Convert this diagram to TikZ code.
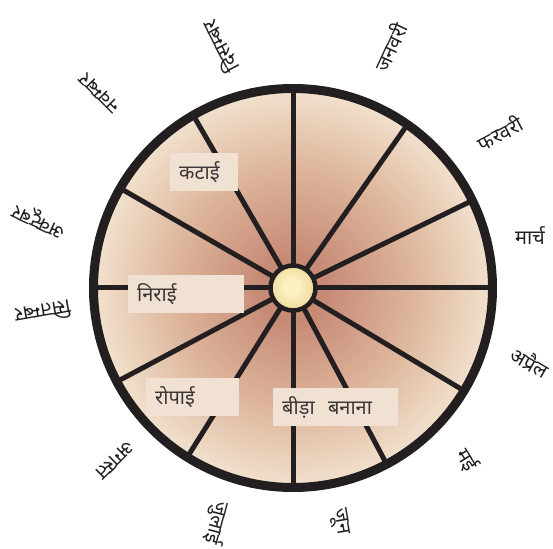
\documentclass[tikz,border=0pt]{standalone}
\usepackage{fontspec}
\setmainfont[Script=Devanagari]{Noto Sans}
\usepackage{tikz}
\usetikzlibrary{positioning}
\definecolor{Ink}{HTML}{231F20}
\definecolor{Label}{HTML}{3A3536}
\definecolor{WheelIn}{HTML}{C68A75}
\definecolor{WheelMid}{HTML}{DDB59B}
\definecolor{WheelOut}{HTML}{F8EFDD}
\definecolor{HubIn}{HTML}{FBF2C4}
\definecolor{HubOut}{HTML}{E9CB85}
\definecolor{TaskFill}{HTML}{F0E1D2}
\pgfdeclareradialshading{wheelshade}{\pgfpointorigin}{color(0bp)=(WheelIn); color(4bp)=(WheelIn); color(15bp)=(WheelMid); color(28bp)=(WheelOut); color(50bp)=(WheelOut)}
\pgfdeclareradialshading{hubshade}{\pgfpoint{-2bp}{2bp}}{color(0bp)=(HubIn); color(8bp)=(HubIn); color(35bp)=(HubOut); color(50bp)=(HubOut)}
\tikzset{
  wheel/.style={circle,draw=Ink,line width=9pt,shading=wheelshade,
                minimum size=399pt,inner sep=0pt,outer sep=0pt},
  hub/.style={circle,draw=Ink,line width=4.5pt,shading=hubshade,
              minimum size=45pt,inner sep=0pt,outer sep=0pt},
  spoke/.style={draw=Ink,line width=5pt},
  task/.style={fill=TaskFill,text=Label,inner xsep=9pt,inner ysep=0pt,
               minimum height=38pt,text width=#1,align=left,anchor=west,
               font=\fontsize{20}{22}\selectfont},
  month/.style={text=Ink,inner sep=0pt,font=\fontsize{20}{22}\selectfont}
}
\begin{document}
\begin{tikzpicture}[x=1pt,y=1pt]
  \useasboundingbox (-293,-260) rectangle (260,288);
  \node[wheel] (wheel) at (0,0) {};
  \foreach \a in {90,55,26,0,-31,-62,-90,-122,-152,180,150,120}
    \draw[spoke] (wheel.center) -- (wheel.\a);
  \node[hub] (hub) at (0,0) {};

  \node[task=50pt] (harvest) at (-123,116) {कटाई};
  \node[task=98pt] (weeding) at (-165,-6) {निराई};
  \node[task=75pt] (planting) at (-147,-109) {रोपाई};
  \node[task=107pt] (nursery) at (-20,-119) {बीड़ा~ बनाना};

  \node[month,rotate=65] (jan) at (97,241) {जनवरी};
  \node[month,rotate=28] (feb) at (207,155) {फरवरी};
  \node[month] (mar) at (237,52) {मार्च};
  \node[month,rotate=-30] (apr) at (237,-74) {अप्रैल};
  \node[month,rotate=-58] (may) at (174,-172) {मई};
  \node[month,rotate=-80] (jun) at (47,-234) {जून};
  \node[month,rotate=-105] (jul) at (-76,-235) {जुलाई};
  \node[month,rotate=-135] (aug) at (-178,-172) {अगस्त};
  \node[month,rotate=190] (sep) at (-250,-25) {सितम्बर};
  \node[month,rotate=155] (oct) at (-253,68) {अक्टूबर};
  \node[month,rotate=135] (nov) at (-193,195) {नवम्बर};
  \node[month,rotate=118] (dec) at (-73,241) {दिसम्बर};
\end{tikzpicture}
\end{document}
